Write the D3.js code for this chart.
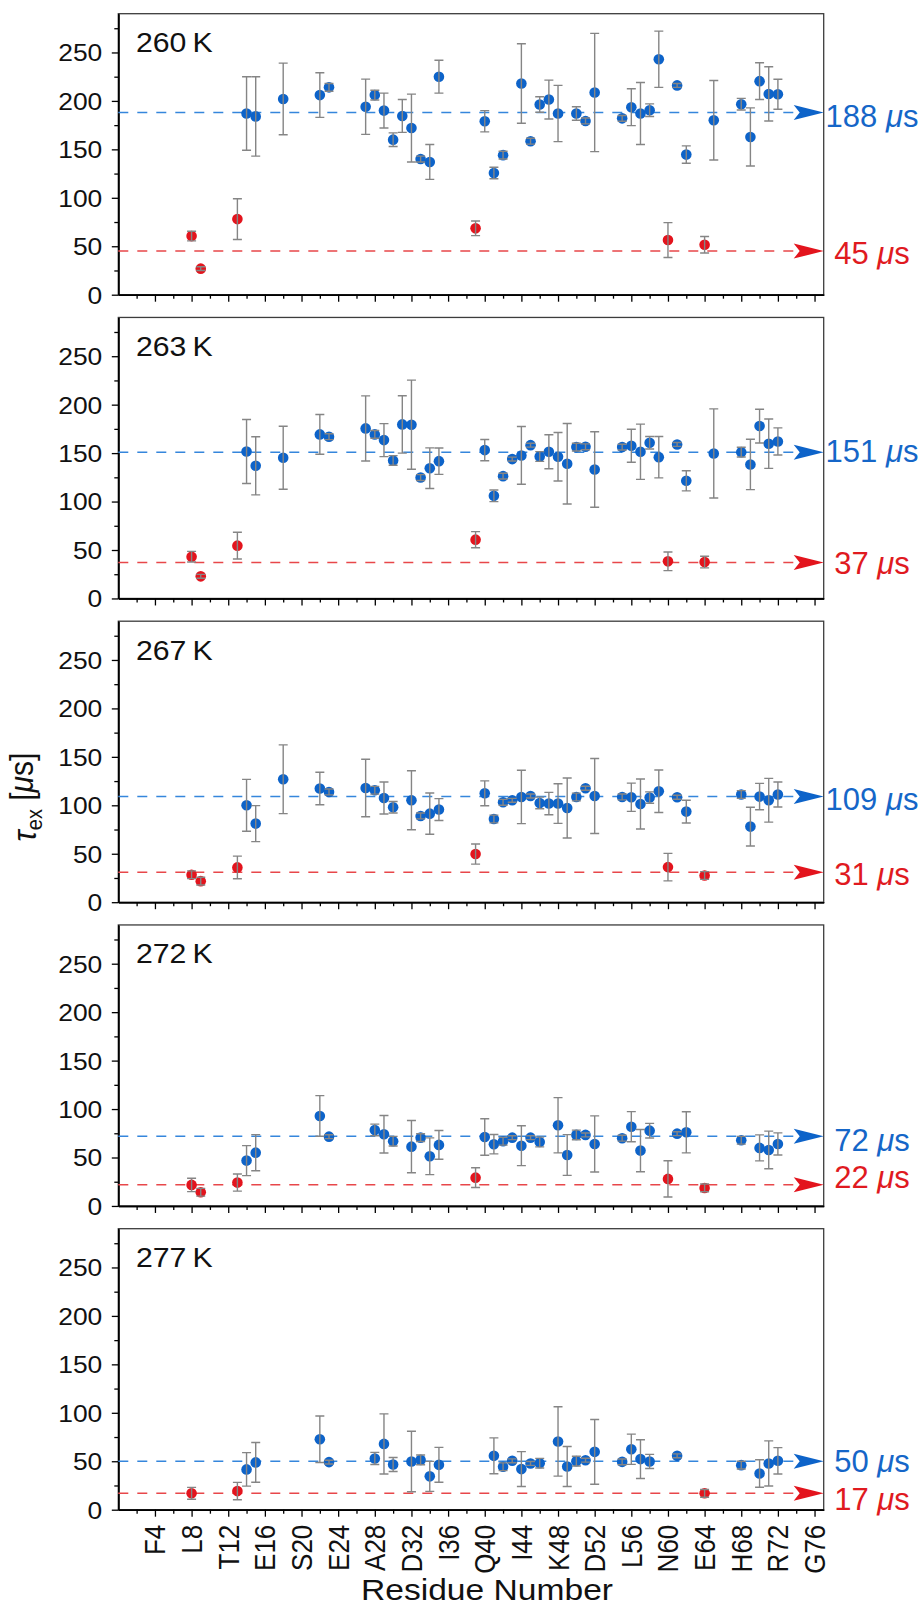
<!DOCTYPE html>
<html>
<head>
<meta charset="utf-8">
<script src="https://cdn.jsdelivr.net/npm/d3@7"></script>
<style>
 body { margin:0; background:#fff; }
 svg { display:block; font-family:"Liberation Sans", Arial, sans-serif; }
 .tick line { stroke:#000; stroke-width:1.3px; }
</style>
</head>
<body>
<svg id="chart" width="922" height="1609"></svg>
<script>
 // Temperatures and fitted mean exchange times (blue = slow group, red = fast group)
 const temps = ["260\u2009K", "263\u2009K", "267\u2009K", "272\u2009K", "277\u2009K"];
 const blueMean = [188, 151, 109, 72, 50];
 const redMean = [45, 37, 31, 22, 17];

 // x axis tick labels
 const tickRes = [4, 8, 12, 16, 20, 24, 28, 32, 36, 40, 44, 48, 52, 56, 60, 64, 68, 72, 76];
 const tickNames = ["F4", "L8", "T12", "E16", "S20", "E24", "A28", "D32", "I36", "Q40",
                    "I44", "K48", "D52", "L56", "N60", "E64", "H68", "R72", "G76"];

 // 260 K
 const blueRes260 = [14, 15, 18, 22, 23, 27, 28, 29, 30, 31, 32, 33, 34, 35, 40, 41, 42, 44, 45, 46, 47, 48, 50, 51, 52, 55, 56, 57, 58, 59, 61, 62, 65, 68, 69, 70, 71, 72];
 const blueTau260 = [187, 184, 202, 206, 214, 194, 206, 190, 160, 184.5, 172, 140, 137, 225, 179, 125.6, 144, 218, 158.4, 196.3, 201.4, 187, 187, 179.3, 208.7, 182, 193.5, 187, 190.4, 243, 216, 144.6, 180, 196.6, 162.8, 220.4, 207.2, 206.9];
 const blueErr260 = [38, 41, 37, 23, 4, 28.5, 5, 18, 7, 17, 35, 3, 18, 17, 11, 6, 4, 41, 3, 8, 20, 29, 7, 3, 61, 3, 19, 32, 6.5, 29, 2, 9, 41, 6, 30, 19, 28, 15.5];
 const redRes260 = [8, 9, 13, 39, 60, 64];
 const redTau260 = [60.5, 26.9, 78, 68.5, 56.4, 51.6];
 const redErr260 = [5, 2, 21, 7.5, 18, 8.5];

 // 263 K
 const blueRes263 = [14, 15, 18, 22, 23, 27, 28, 29, 30, 31, 32, 33, 34, 35, 40, 41, 42, 43, 44, 45, 46, 47, 48, 49, 50, 51, 52, 55, 56, 57, 58, 59, 61, 62, 65, 68, 69, 70, 71, 72];
 const blueTau263 = [151.7, 136.9, 145.2, 169.3, 166.9, 175.5, 169.3, 163.4, 142.4, 179.6, 179.3, 124.8, 134.4, 141.7, 153.1, 105.9, 126.2, 143.8, 147.6, 158.2, 146.5, 151.4, 146.2, 139, 156.2, 156.5, 133.1, 156.2, 157.6, 151.4, 160.7, 145.8, 158.9, 121.4, 149.6, 151, 138.3, 177.9, 159.7, 162];
 const blueErr263 = [33, 30, 32.5, 20.5, 3, 33.6, 4, 17, 5, 29.6, 46, 3, 21, 13.6, 11, 6, 3, 2, 29.8, 2, 5, 17.6, 25, 41.5, 4, 3, 39, 3, 17, 28.5, 6.5, 21.4, 2, 10.4, 46, 5, 26, 17.4, 25.5, 14];
 const redRes263 = [8, 9, 13, 39, 60, 64];
 const redTau263 = [43.1, 22.8, 54.5, 60.7, 38.3, 37.6];
 const redErr263 = [5.5, 2, 13.8, 8.3, 9.6, 6];

 // 267 K
 const blueRes267 = [14, 15, 18, 22, 23, 27, 28, 29, 30, 32, 33, 34, 35, 40, 41, 42, 43, 44, 45, 46, 47, 48, 49, 50, 51, 52, 55, 56, 57, 58, 59, 61, 62, 68, 69, 70, 71, 72];
 const blueTau267 = [100, 81.1, 126.9, 117.3, 113.8, 117.9, 115.5, 107.6, 98, 105.2, 89, 91.4, 95.6, 112.4, 85.9, 103.1, 105.2, 108.6, 109.6, 102.4, 101.8, 101.8, 97.2, 108.6, 117.6, 109.6, 108.6, 108.3, 101.4, 108, 114.5, 108.3, 93.5, 111.1, 78, 109, 105.2, 111.1];
 const blueErr267 = [26.8, 18.6, 35.5, 16.8, 3, 29.7, 4, 16.5, 6, 30.5, 3, 21.3, 11.3, 12.8, 4, 3, 2, 27.5, 2, 6, 11.5, 20.5, 31, 4, 2, 38.7, 3, 14.6, 25.8, 5.9, 21.9, 2, 11.7, 4, 20, 13.6, 22.6, 12.9];
 const redRes267 = [8, 9, 13, 39, 60, 64];
 const redTau267 = [28.3, 21.7, 35.9, 49.7, 36.2, 27.6];
 const redErr267 = [4, 4, 11.7, 10.4, 14.2, 4];

 // 272 K
 const blueRes272 = [14, 15, 22, 23, 28, 29, 30, 32, 33, 34, 35, 40, 41, 42, 43, 44, 45, 46, 48, 49, 50, 51, 52, 55, 56, 57, 58, 61, 62, 68, 70, 71, 72];
 const blueTau272 = [46.8, 55, 92.9, 71.5, 78.4, 74, 66.8, 61.2, 70.5, 51.3, 63, 71.2, 63.7, 66.8, 70.5, 62.2, 70.5, 66, 83.3, 52.6, 73.3, 73.3, 64, 69.9, 81.8, 57.1, 77.7, 74.6, 76, 67.8, 59.9, 57.8, 64];
 const blueErr272 = [15.5, 18.6, 21, 2, 6, 19.4, 5, 27, 4, 19, 14.8, 18.8, 10, 4, 2, 20.6, 2, 5, 28.5, 21, 5, 2, 29, 3, 15.5, 21.8, 7.5, 2, 21.2, 4, 13.4, 19.4, 11.4];
 const redRes272 = [8, 9, 13, 39, 60, 64];
 const redTau272 = [21.7, 14.1, 24.1, 29.2, 27.9, 18.6];
 const redErr272 = [6.9, 4, 8.8, 10.2, 18.7, 4];

 // 277 K
 const blueRes277 = [14, 15, 22, 23, 28, 29, 30, 32, 33, 34, 35, 41, 42, 43, 44, 45, 46, 48, 49, 50, 51, 52, 55, 56, 57, 58, 61, 68, 70, 71, 72];
 const blueTau277 = [41.6, 48.8, 72.7, 49.1, 52.9, 67.9, 46.7, 49.8, 51.4, 34.4, 46.3, 55.6, 44.3, 50.5, 41.9, 47.7, 48, 70.4, 44.6, 50.1, 51.1, 59.7, 49.4, 62.4, 52.2, 49.8, 55.6, 46, 37.4, 47.7, 50.5];
 const blueErr277 = [17.3, 20.5, 24, 2, 6.3, 31, 7.2, 31.2, 5, 15.5, 18, 18.5, 4, 2, 18, 2, 5, 35.8, 20.6, 5, 2, 33.4, 3, 15.6, 20, 7.3, 2, 4, 14.2, 23.3, 13.6];
 const redRes277 = [8, 13, 64];
 const redTau277 = [16.9, 19.2, 16.9];
 const redErr277 = [6.1, 9, 4];

 const blueSets = [[blueRes260, blueTau260, blueErr260], [blueRes263, blueTau263, blueErr263],
                   [blueRes267, blueTau267, blueErr267], [blueRes272, blueTau272, blueErr272],
                   [blueRes277, blueTau277, blueErr277]];
 const redSets = [[redRes260, redTau260, redErr260], [redRes263, redTau263, redErr263],
                  [redRes267, redTau267, redErr267], [redRes272, redTau272, redErr272],
                  [redRes277, redTau277, redErr277]];

 // ---- layout ----
 const X0 = 118.3, X1 = 823.7;
 const TOP0 = 13.7, PH = 281, GAP = 303.75;
 const BLUE = "#0d63c9", BLUE_LINE = "#3586dc", BLUE_TXT = "#1566c8";
 const RED = "#e3141d", RED_LINE = "#e8474a", RED_TXT = "#e01a1f";
 const blueLabelDy = [14, 10, 13, 15, 11];
 const redLabelDy = [13, 11, 13, 3, 17];

 const svg = d3.select("#chart");
 const x = d3.scaleLinear().domain([0, 77]).range([X0, X1]);

 const zip = (s) => s[0].map((r, i) => ({r: r, v: s[1][i], e: s[2][i]}));

 temps.forEach(function (label, i) {
     const top = TOP0 + i * GAP, bottom = top + PH;
     const y = d3.scaleLinear().domain([0, 290]).range([bottom, top]);
     const g = svg.append("g");
     const last = i == temps.length - 1;

     // frame
     g.append("rect").attr("x", X0).attr("y", top).attr("width", X1 - X0).attr("height", PH)
      .attr("fill", "none").attr("stroke", "#3c3c3c").attr("stroke-width", 1.3);

     // y axis, major and minor ticks
     const ya = g.append("g").attr("transform", "translate(" + X0 + ",0)")
      .call(d3.axisLeft(y).tickValues([0, 50, 100, 150, 200, 250]).tickSize(6.5).tickSizeOuter(0));
     ya.selectAll("text").attr("x", null).attr("dy", "0.35em")
       .attr("transform", "translate(-16,0) scale(1.1,1)")
       .style("font-size", "24px").style("font-family", "Liberation Sans, Arial, sans-serif").attr("fill", "#111");
     g.append("g").attr("transform", "translate(" + X0 + ",0)")
      .call(d3.axisLeft(y).tickValues([25, 75, 125, 175, 225, 275]).tickSize(4).tickSizeOuter(0).tickFormat(""));

     // x axis, major and minor ticks
     const xa = g.append("g").attr("transform", "translate(0," + bottom + ")")
      .call(d3.axisBottom(x).tickValues(tickRes).tickSize(7).tickSizeOuter(0)
              .tickFormat(function (d, k) { return last ? tickNames[k] : ""; }));
     g.append("g").attr("transform", "translate(0," + bottom + ")")
      .call(d3.axisBottom(x).tickValues(d3.range(2, 77, 4)).tickSize(4).tickSizeOuter(0).tickFormat(""));
     if (last) {
         xa.selectAll("text").attr("y", null).attr("dy", "0.35em")
           .attr("text-anchor", "end")
           .attr("transform", "translate(0,15) scale(1.1,1) rotate(-90)")
           .style("font-size", "26px").style("font-family", "Liberation Sans, Arial, sans-serif").attr("fill", "#111");
     }
     g.selectAll(".domain").attr("stroke", "#000").attr("stroke-width", 1.6);

     // mean lines with arrow heads and labels
     [[blueMean[i], BLUE_LINE, BLUE, BLUE_TXT, blueLabelDy[i]],
      [redMean[i], RED_LINE, RED, RED_TXT, redLabelDy[i]]].forEach(function (m) {
         const yy = y(m[0]);
         g.append("line").attr("x1", X0).attr("x2", X1 - 27).attr("y1", yy).attr("y2", yy)
          .attr("stroke", m[1]).attr("stroke-width", 1.5).attr("stroke-dasharray", "10,9");
         g.append("path").attr("d", "M0,0L-30,-7.5L-24,0L-30,7.5Z")
          .attr("transform", "translate(" + X1 + "," + yy + ")").attr("fill", m[2]);
         const t = g.append("text").attr("x", 872).attr("y", yy + m[4])
          .attr("text-anchor", "middle").attr("fill", m[3]).style("font-size", "31px");
         t.append("tspan").text(m[0] + " ");
         t.append("tspan").style("font-style", "italic").text("\u03bc");
         t.append("tspan").text("s");
     });

     // points, then error bars on top
     [[zip(redSets[i]), RED], [zip(blueSets[i]), BLUE]].forEach(function (s) {
         g.append("g").selectAll("circle").data(s[0]).enter().append("circle")
          .attr("cx", d => x(d.r)).attr("cy", d => y(d.v)).attr("r", 5.3).attr("fill", s[1]);
         const eb = g.append("g").attr("stroke", "#858585").attr("stroke-width", 1.4).attr("fill", "none");
         eb.selectAll("path").data(s[0]).enter().append("path")
          .attr("d", function (d) {
              const cx = x(d.r), y1 = y(d.v + d.e), y2 = y(d.v - d.e);
              return "M" + cx + "," + y1 + "V" + y2 + "M" + (cx - 4.5) + "," + y1 + "H" + (cx + 4.5)
                   + "M" + (cx - 4.5) + "," + y2 + "H" + (cx + 4.5);
          });
     });

     // temperature label
     g.append("text").attr("transform", "translate(136," + (top + 38.5) + ") scale(1.08,1)")
      .style("font-size", "28px").attr("fill", "#111").text(label);
 });

 // axis titles
 const yt = svg.append("text").attr("transform", "translate(36,797) scale(1.1,1) rotate(-90)")
  .attr("text-anchor", "middle").style("font-size", "30px").attr("fill", "#111");
 yt.append("tspan").style("font-style", "italic").text("\u03c4");
 yt.append("tspan").attr("dy", "0.28em").style("font-size", "20px").text("ex");
 yt.append("tspan").attr("dy", "-0.28em").text(" [");
 yt.append("tspan").style("font-style", "italic").text("\u03bc");
 yt.append("tspan").text("s]");

 svg.append("text").attr("transform", "translate(487,1600) scale(1.12,1)")
  .attr("text-anchor", "middle").style("font-size", "30px").attr("fill", "#111")
  .text("Residue Number");
</script>
</body>
</html>
